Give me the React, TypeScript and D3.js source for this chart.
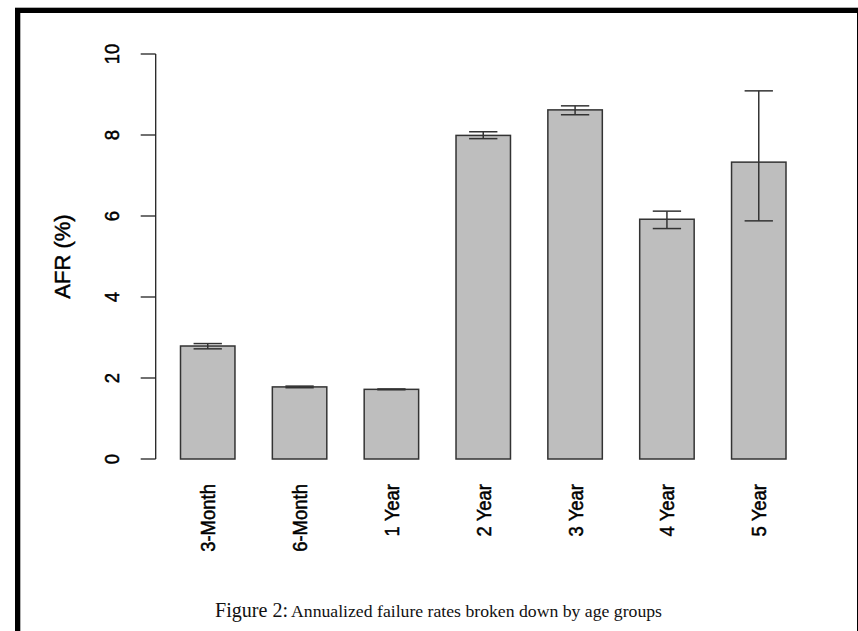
import * as d3 from 'd3'
import { useEffect, useRef } from 'react'

// data
const groups = ['3-Month', '6-Month', '1 Year', '2 Year', '3 Year', '4 Year', '5 Year']
const afr = [2.79, 1.78, 1.72, 7.99, 8.62, 5.92, 7.33]
const errLow = [2.72, 1.76, 1.71, 7.91, 8.50, 5.69, 5.88]
const errHigh = [2.85, 1.80, 1.73, 8.08, 8.72, 6.12, 9.09]
const yTicks = [0, 2, 4, 6, 8, 10]

const W = 858
const H = 631

const App = () => {
    const ref = useRef<SVGSVGElement>(null)

    useEffect(() => {
        const svg = d3.select(ref.current)
        svg.selectAll('*').remove()

        const rows = groups.map((g, i) => ({ g, v: afr[i], lo: errLow[i], hi: errHigh[i] }))

        const x = d3.scaleBand<string>()
            .domain(groups)
            .range([180.5, 786])
            .paddingInner(0.407)
            .paddingOuter(0)

        const y = d3.scaleLinear()
            .domain([0, 10])
            .range([459, 54])

        // frame
        svg.append('rect').attr('x', 0).attr('y', 0).attr('width', W).attr('height', H).attr('fill', '#fff')
        svg.append('line').attr('x1', 15).attr('x2', W).attr('y1', 7.5).attr('y2', 7.5)
            .attr('stroke', '#b0b0b0').attr('stroke-width', 1)
        svg.append('rect').attr('x', 15).attr('y', 8).attr('width', W - 15).attr('height', 5).attr('fill', '#000')
        svg.append('rect').attr('x', 15).attr('y', 8).attr('width', 5).attr('height', H - 8).attr('fill', '#000')
        svg.append('line').attr('x1', 20.5).attr('x2', 20.5).attr('y1', 13).attr('y2', H)
            .attr('stroke', '#b0b0b0').attr('stroke-width', 1)
        svg.append('line').attr('x1', 857.5).attr('x2', 857.5).attr('y1', 13).attr('y2', H)
            .attr('stroke', '#000').attr('stroke-width', 1)

        const sans = 'Liberation Sans, Arial, sans-serif'

        // y axis (R style: detached, labels parallel to axis)
        const axisX = 155.7
        const yAxis = svg.append('g')
        yAxis.append('line')
            .attr('x1', axisX).attr('x2', axisX)
            .attr('y1', y(0)).attr('y2', y(10))
            .attr('stroke', '#222').attr('stroke-width', 1.3)
        yAxis.selectAll('.tick')
            .data(yTicks)
            .enter()
            .append('line')
            .attr('x1', axisX - 15).attr('x2', axisX)
            .attr('y1', d => y(d)).attr('y2', d => y(d))
            .attr('stroke', '#222').attr('stroke-width', 1.3)
        yAxis.selectAll('.ylab')
            .data(yTicks)
            .enter()
            .append('text')
            .attr('transform', d => `translate(119,${y(d)}) rotate(-90) scale(1,1.12)`)
            .attr('text-anchor', 'middle')
            .attr('stroke', '#000').attr('stroke-width', 0.45)
            .style('font-family', sans)
            .style('font-size', '18.5px')
            .text(d => d)

        svg.append('text')
            .attr('transform', `translate(70,${(y(0) + y(10)) / 2}) rotate(-90)`)
            .attr('text-anchor', 'middle')
            .attr('stroke', '#000').attr('stroke-width', 0.45)
            .style('font-family', sans)
            .style('font-size', '22px')
            .text('AFR (%)')

        // bars
        svg.selectAll('.bar')
            .data(rows)
            .enter()
            .append('rect')
            .attr('x', d => x(d.g)!)
            .attr('y', d => y(d.v))
            .attr('width', x.bandwidth())
            .attr('height', d => y(0) - y(d.v))
            .attr('fill', '#bebebe')
            .attr('stroke', '#333')
            .attr('stroke-width', 1.5)

        // error bars
        const cap = x.bandwidth() * 0.26
        const eb = svg.selectAll('.err').data(rows).enter().append('g')
            .attr('stroke', '#333').attr('stroke-width', 1.5)
        eb.append('line')
            .attr('x1', d => x(d.g)! + x.bandwidth() / 2).attr('x2', d => x(d.g)! + x.bandwidth() / 2)
            .attr('y1', d => y(d.lo)).attr('y2', d => y(d.hi))
        eb.append('line')
            .attr('x1', d => x(d.g)! + x.bandwidth() / 2 - cap).attr('x2', d => x(d.g)! + x.bandwidth() / 2 + cap)
            .attr('y1', d => y(d.lo)).attr('y2', d => y(d.lo))
        eb.append('line')
            .attr('x1', d => x(d.g)! + x.bandwidth() / 2 - cap).attr('x2', d => x(d.g)! + x.bandwidth() / 2 + cap)
            .attr('y1', d => y(d.hi)).attr('y2', d => y(d.hi))

        // x labels, perpendicular to axis
        svg.selectAll('.xlab')
            .data(groups)
            .enter()
            .append('text')
            .attr('transform', d => `translate(${x(d)! + x.bandwidth() / 2},484) rotate(-90) scale(1,1.12)`)
            .attr('text-anchor', 'end')
            .attr('dy', '0.36em')
            .attr('stroke', '#000').attr('stroke-width', 0.45)
            .style('font-family', sans)
            .style('font-size', '18.5px')
            .text(d => d)

        // caption
        const caption = svg.append('text')
            .attr('x', 215)
            .attr('y', 617)
            .style('font-family', 'Liberation Serif, Times New Roman, serif')
            .attr('fill', '#111')
        caption.append('tspan').style('font-size', '20px').attr('textLength', 73).attr('lengthAdjust', 'spacingAndGlyphs').text('Figure 2:')
        caption.append('tspan').attr('dx', 3).style('font-size', '17px').attr('textLength', 371).attr('lengthAdjust', 'spacingAndGlyphs').text('Annualized failure rates broken down by age groups')
    }, [])

    return (
        <div style={{ position: 'absolute', left: 0, top: 0 }}>
            <svg ref={ref} width={W} height={H} style={{ display: 'block' }}></svg>
        </div>
    )
}

export default App
